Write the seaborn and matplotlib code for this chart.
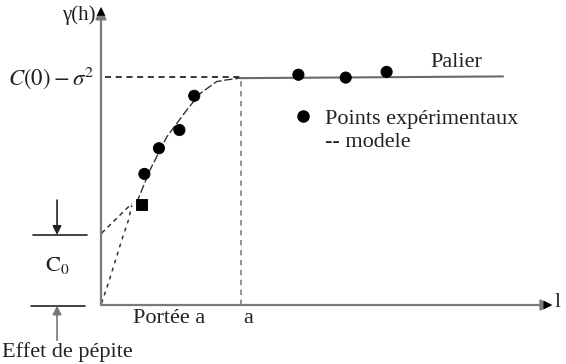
import matplotlib
matplotlib.use("Agg")
import matplotlib.pyplot as plt
from matplotlib.lines import Line2D
import seaborn as sns
import pandas as pd

# ---- data (h in arbitrary units, gamma in arbitrary units) ----
pts_h = [1.45, 1.55, 2.07, 2.80, 3.33, 7.05, 8.74, 10.20]
pts_g = [1.77, 2.30, 2.75, 3.07, 3.67, 4.04, 3.99, 4.09]
pts_kind = ["carre", "rond", "rond", "rond", "rond", "rond", "rond", "rond"]

model_rise_h = [1.27, 1.75, 2.35, 3.06, 3.54, 4.13, 4.49, 4.96]
model_rise_g = [1.79, 2.37, 2.95, 3.42, 3.71, 3.92, 3.95, 3.98]
palier_h = [4.96, 14.36]
palier_g = [3.98, 4.01]
nugget_h = [0.02, 1.10]
nugget_g = [1.26, 1.78]
origin_h = [0.02, 0.26, 0.56, 0.74, 0.98, 1.10]
origin_g = [0.03, 0.38, 0.85, 1.14, 1.49, 1.75]
sill = 4.0
portee = 5.0
h_max = 16.1
g_max = 5.21

sns.set_theme(style="white")
plt.rcParams["font.family"] = ["Liberation Serif", "DejaVu Serif"]
plt.rcParams["mathtext.fontset"] = "stix"

fig = plt.figure(figsize=(5.66, 3.64), dpi=100)
ax = fig.add_axes([0, 0, 1, 1])
ax.set_xlim(-3.607, 16.607)
ax.set_ylim(-1.035, 5.351)
ax.axis("off")

axis_col = "#7a7a7a"
# axes arrows
ax.annotate("", xy=(h_max, 0), xytext=(0, 0),
            arrowprops=dict(arrowstyle="-|>", color=axis_col, lw=1.6,
                            mutation_scale=16, shrinkA=0, shrinkB=0))
ax.annotate("", xy=(0, g_max), xytext=(0, 0),
            arrowprops=dict(arrowstyle="-|>", color=axis_col, lw=1.6,
                            mutation_scale=16, shrinkA=0, shrinkB=0))
ax.annotate("", xy=(h_max + 0.02, 0), xytext=(h_max - 0.4, 0),
            arrowprops=dict(arrowstyle="-|>", color="black", lw=0,
                            mutation_scale=16, shrinkA=0, shrinkB=0))
ax.annotate("", xy=(0, g_max + 0.02), xytext=(0, g_max - 0.3),
            arrowprops=dict(arrowstyle="-|>", color="black", lw=0,
                            mutation_scale=16, shrinkA=0, shrinkB=0))

# guide lines
ax.plot([0.15, portee], [sill, sill], color="black", lw=1.1, ls=(0, (4, 3)))
ax.plot([portee, portee], [0, sill], color="#8a8a8a", lw=1.3, ls=(0, (3, 2.5)))

# model lines
sns.lineplot(x=model_rise_h, y=model_rise_g, ax=ax, color="#333333", lw=1.0,
             linestyle=(0, (6, 2)), sort=False, estimator=None)
sns.lineplot(x=palier_h, y=palier_g, ax=ax, color="#6a6a6a", lw=1.5,
             sort=False, estimator=None)
sns.lineplot(x=nugget_h, y=nugget_g, ax=ax, color="#333333", lw=1.1,
             linestyle=(0, (3, 2.5)), sort=False, estimator=None)
sns.lineplot(x=origin_h, y=origin_g, ax=ax, color="#333333", lw=1.1,
             linestyle=(0, (2.5, 3)), sort=False, estimator=None)

# experimental points
df = pd.DataFrame({"h": pts_h, "g": pts_g, "kind": pts_kind})
sns.scatterplot(data=df, x="h", y="g", style="kind",
                markers={"carre": "s", "rond": "o"}, color="black",
                s=65, edgecolor="black", ax=ax, legend=False, zorder=5)

fs = 16
# texts
ax.text(-0.21, 5.09, "γ(h)", ha="right", va="center", fontsize=15, color="#222")
ax.text(-0.21, 3.98, r"$C(0)-\sigma^2$", ha="right", va="center", fontsize=16.5, color="#222")
ax.text(11.75, 4.26, "Palier", ha="left", va="center", fontsize=fs, color="#222")
ax.text(1.14, -0.23, "Portée a", ha="left", va="center", fontsize=fs, color="#222")
ax.text(5.25, -0.23, "a", ha="center", va="center", fontsize=fs, color="#222")
ax.text(16.2, 0.05, "l", ha="left", va="center", fontsize=fs, color="#222")
ax.text(-1.57, 0.70, r"$\mathrm{C}_0$", ha="center", va="center", fontsize=fs, color="#222")
ax.text(-3.55, -0.83, "Effet de pépite", ha="left", va="center", fontsize=fs, color="#222")

# C0 bracket
ax.plot([-2.43, -0.5], [1.22, 1.22], color="#222", lw=1.2)
ax.plot([-2.5, -0.57], [-0.02, -0.02], color="#222", lw=1.2)
ax.annotate("", xy=(-1.57, 1.23), xytext=(-1.57, 1.84),
            arrowprops=dict(arrowstyle="-|>", color="#222", lw=1.2,
                            mutation_scale=13, shrinkA=0, shrinkB=0))
ax.annotate("", xy=(-1.57, -0.01), xytext=(-1.57, -0.62),
            arrowprops=dict(arrowstyle="-|>", color="#777", lw=1.2,
                            mutation_scale=13, shrinkA=0, shrinkB=0))

# legend
handles = [Line2D([], [], marker="o", color="black", ls="none", markersize=8),
           Line2D([], [], ls="none")]
leg = ax.legend(handles, ["Points expérimentaux", "-- modele"],
                loc="upper left", bbox_to_anchor=(0.50, 0.733),
                frameon=False, fontsize=fs, handlelength=0.8,
                handletextpad=0.6, labelspacing=0.12, borderpad=0)
for t in leg.get_texts():
    t.set_color("#222")

fig.savefig("out.png", dpi=100)
